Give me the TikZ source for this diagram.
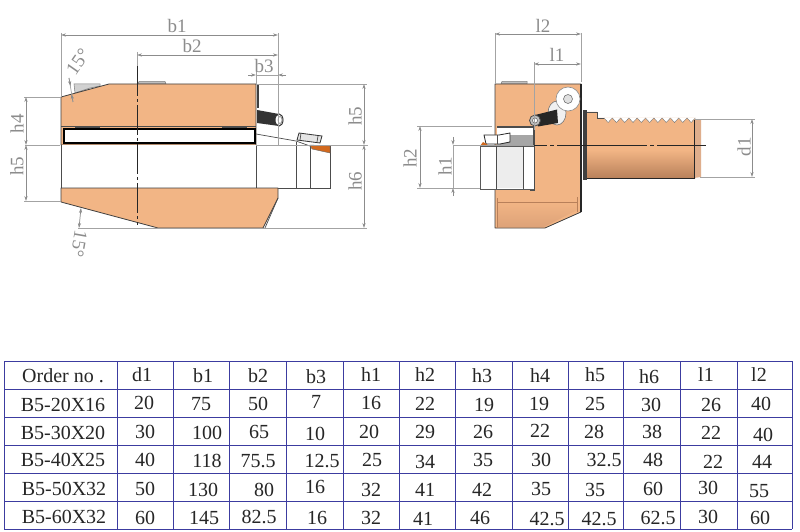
\documentclass[tikz,border=0pt]{standalone}
\usepackage{fontspec}
\setmainfont{Liberation Serif}
\usetikzlibrary{arrows.meta}
\definecolor{body}{HTML}{F2B585}
\definecolor{bodydark}{HTML}{B8805A}
\definecolor{bodysoft}{HTML}{DDA278}
\definecolor{capcol}{HTML}{DFAE8C}
\definecolor{dimgrey}{HTML}{8C8C8C}
\definecolor{tablee}{HTML}{3C3CA0}
\definecolor{orangetip}{HTML}{D2691E}
\tikzset{
  part/.style={fill=body,draw=black!75,line width=0.8pt,line join=round},
  edgeline/.style={draw=black!70,line width=0.7pt},
  whitepart/.style={fill=white,draw=black!65,line width=0.7pt},
  dimline/.style={draw=dimgrey,line width=0.7pt,<->,>={Stealth[length=5pt,width=3.2pt]}},
  dimhalf/.style={draw=dimgrey,line width=0.7pt,->,>={Stealth[length=5pt,width=3.2pt]}},
  extline/.style={draw=dimgrey!80,line width=0.7pt},
  dimtext/.style={text=dimgrey,font=\fontsize{19}{19}\selectfont,inner sep=0pt},
  cell/.style={text=black!85,font=\fontsize{20}{20}\selectfont,inner sep=0pt},
  gridline/.style={draw=tablee,line width=0.8pt},
  centerline/.style={draw=black!85,line width=0.7pt,dash pattern=on 30pt off 3pt on 3pt off 3pt}
}
\begin{document}
\begin{tikzpicture}[x=1pt,y=-1pt]
\useasboundingbox (0,0) rectangle (800,532);
\fill[white] (0,0) rectangle (800,532);
% ---------- left view ----------
\fill[black!18,draw=black!50,line width=0.5pt] (74,84) -- (100,84) -- (100,86) -- (90,88) -- (75,93) -- cycle;
\fill[black!25,draw=black!50,line width=0.5pt] (138,84) -- (139,81.5) -- (165,81.5) -- (166,84) -- cycle;
\draw[part] (61,97) -- (109,84) -- (256,84) -- (256,145) -- (61,145) -- cycle;
\draw[edgeline] (61,126) -- (256,126);
\draw[fill=white,draw=black,line width=1.4pt] (64,129) rectangle (255,143);
\draw[edgeline,line width=1.2pt] (75,127) -- (100,127) (222,127) -- (247,127);
% bolt
\fill[black!75] (257,84) rectangle (259,108);
\fill[black!80] (257,110) -- (279,114) -- (279,126) -- (257,123) -- cycle;
\draw[fill=white,draw=black!80,line width=1pt] (279,120) ellipse [x radius=4pt,y radius=6pt];
\draw[draw=black!50,line width=0.6pt] (280,120) ellipse [x radius=2pt,y radius=3.5pt];
% tool
\fill[white] (61,145) rectangle (330,188);
\draw[edgeline] (61,145) -- (61,188);
\draw[edgeline] (256,145) -- (256,188) -- (330,188) -- (330,146);
\draw[edgeline] (296,142) -- (296,188) (310,146) -- (310,188);
\draw[edgeline] (256,134) -- (296,141) -- (310,146);
\draw[fill=orangetip,draw=black!60,line width=0.4pt] (310,145) -- (330,146) -- (330,153) -- (312,149) -- cycle;
\draw[fill=black!10,draw=black!80,line width=0.8pt] (299,133) -- (322,136) -- (320,143) -- (297,140) -- cycle;
\draw[edgeline] (301,133) -- (300,140) (318,136) -- (317,142);
% lower body
\draw[part] (61,188) -- (278,188) -- (278,198) -- (263,228) -- (158,228) -- (61,202) -- cycle;
\draw[edgeline] (278,198) -- (265,228);
\draw[centerline] (137,66) -- (137,225);
% left dimensions
\draw[extline] (61,33) -- (61,97) (278,33) -- (278,146);
\draw[extline] (137,52) -- (137,66);
\draw[extline] (256,70) -- (256,84);
\draw[extline] (256,84) -- (367,84) (25,145) -- (60,145) (256,145) -- (368,145);
\draw[extline] (78,228) -- (367,228);
\draw[extline] (24,97) -- (61,97) (24,201) -- (61,201);
\draw[dimline] (61,35) -- (278,35);
\draw[dimline] (137,55) -- (278,55);
\draw[dimhalf] (248,75) -- (256,75);
\draw[dimhalf] (286,75) -- (278,75);
\draw[extline] (256,75) -- (278,75);
\draw[dimline] (364,84) -- (364,145);
\draw[dimline] (364,145) -- (364,228);
\draw[dimline] (26,97) -- (26,145);
\draw[dimline] (26,145) -- (26,201);
\draw[extline] (69,78) -- (73,102);
\draw[dimhalf] (69,78) -- (70.5,86);
\draw[dimhalf] (73,102) -- (71.5,94);
\draw[dimline] (81,208) -- (79,228);
\node[dimtext] (tb1) at (177,26) {b1};
\node[dimtext] (tb2) at (192,46) {b2};
\node[dimtext] (tb3) at (264,66) {b3};
\node[dimtext,rotate=90] (th5r) at (355,116) {h5};
\node[dimtext,rotate=90] (th6) at (355,181) {h6};
\node[dimtext,rotate=90] (th4) at (17,124) {h4};
\node[dimtext,rotate=90] (th5l) at (17,166) {h5};
\node[dimtext,rotate=55] (ta1) at (78,62) {15°};
\node[dimtext,rotate=-100] (ta2) at (79,244) {15°};
% ---------- right view ----------
\fill[black!25,draw=black!50,line width=0.5pt] (501,84) -- (502,81.5) -- (527,81.5) -- (527,84) -- cycle;
% shank
\fill[body] (587,112) -- (597,112) -- (597,118) -- (695,118) -- (695,150) -- (587,150) -- cycle;
\shade[top color=body,bottom color=bodydark] (587,150) rectangle (695,178.5);
\fill[capcol] (694,120) -- (701,120) -- (701,177) -- (694,178) -- cycle;
\foreach \tx in {604,612.3,...,690}{
  \draw[fill=white,draw=black!55,line width=0.4pt] (\tx,118) -- (\tx+4.1,122.5) -- (\tx+8.3,118);
}
\draw[edgeline] (587,112) -- (597,112) -- (597,118) -- (604,118);
\draw[draw=black!85,line width=0.9pt] (694,120) -- (694,178) -- (587,178);
\fill[black!75] (582.5,110) rectangle (587,180);
% block
\draw[part] (495,84) -- (581,84) -- (581,212) -- (545,228) -- (495,228) -- cycle;
\shade[top color=body,bottom color=bodysoft] (497,202) -- (577,202) -- (577,210) -- (544,227) -- (497,227) -- cycle;
\draw[draw=bodydark,line width=0.6pt] (497,198) -- (497,228) (577,197) -- (577,212) (497,202) -- (577,202);
\draw[draw=black!85,line width=1.4pt] (581,84) -- (581,212);
% recess
\fill[white] (497,127) rectangle (534,135);
\fill[black!35] (497,135) rectangle (533,145);
\draw[edgeline,line width=1.2pt] (497,127) -- (534,127) -- (534,145);
\draw[whitepart,fill=white] (480,146) rectangle (534,189);
\fill[black!7] (496,147) rectangle (523,188);
\draw[edgeline] (496,146) -- (496,189) (523,146) -- (523,189);
\draw[edgeline,line width=1pt] (534,146) -- (534,190) -- (530,190);
\draw[fill=white,draw=black!85,line width=0.8pt] (484,135) -- (499,135) -- (510,133) -- (510,142) -- (500,144) -- (486,144) -- cycle;
\draw[edgeline] (497,135) -- (497,144);
\fill[orangetip] (480,146) -- (483,142) -- (488,145) -- cycle;
% screws
\draw[fill=black!6,draw=black!55,line width=0.6pt] (557,113) ellipse [x radius=9pt,y radius=12pt];
\fill[black!85] (535,115) -- (557,109.5) -- (558,123) -- (538,126.5) -- cycle;
\draw[fill=black!25,draw=black!70,line width=0.8pt] (535,120.5) circle [radius=5.5pt];
\draw[fill=white,draw=black!60,line width=0.6pt] (535,120.5) circle [radius=2.5pt];
\draw[fill=white,draw=black!45,line width=0.6pt] (568,99) circle [radius=12pt];
\draw[fill=black!12,draw=black!55,line width=0.6pt] (568,99) circle [radius=4.5pt];
% right dimensions
\draw[extline] (495,33) -- (495,84) (581,33) -- (581,82);
\draw[extline] (534,62) -- (534,130);
\draw[extline] (417,126) -- (492,126) (417,188) -- (480,188) (453,145) -- (534,145);
\draw[extline] (695,119) -- (755,119) (700,177) -- (755,177);
\draw[dimline] (495,34) -- (581,34);
\draw[dimline] (534,64) -- (581,64);
\draw[dimline] (420,126) -- (420,188);
\draw[extline] (453,145) -- (453,188);
\draw[dimhalf] (453,137) -- (453,145);
\draw[dimhalf] (453,196) -- (453,188);
\draw[dimline] (752,119) -- (752,177);
\draw[draw=black!85,line width=0.7pt,dash pattern=on 90pt off 3pt on 4pt off 3pt,dash phase=77pt] (534,145.5) -- (706,145.5);
\node[dimtext] (tl2) at (543,26) {l2};
\node[dimtext] (tl1) at (557,55) {l1};
\node[dimtext,rotate=90] (th2) at (410,158) {h2};
\node[dimtext,rotate=90] (th1) at (445,166) {h1};
\node[dimtext,rotate=90] (td1) at (744,147) {d1};
% ---------- table ----------
\foreach \gx in {4,117,173,229,286,343,399,455,512,568,623,680,737,792}{
  \draw[gridline] (\gx,361) -- (\gx,529);
}
\foreach \gy in {361,389,417,445,473,501,529}{
  \draw[gridline] (4,\gy) -- (792,\gy);
}
\foreach \cx/\cy/\ct [count=\ci] in {
 63/376/{Order no .},142/375/d1,203/376/b1,258/376/b2,316/377/b3,371/375/h1,425/375/h2,482/376/h3,540/376/h4,595/375/h5,649/377/h6,706/375/l1,759/375/l2,
 63/405/B5-20X16,144/403/20,201/404/75,258/404/50,316/402/7,371/403/16,425/404/22,484/405/19,539/404/19,595/404/25,651/405/30,711/405/26,761/404/40,
 63/433/B5-30X20,145/432/30,207/433/100,259/432/65,315/434/10,369/432/20,425/432/29,483/432/26,540/431/22,594/432/28,652/432/38,711/433/22,763/435/40,
 63/460/B5-40X25,145/460/40,207/461/118,258/461/75.5,322/461/12.5,372/460/25,425/462/34,483/460/35,541/460/30,604/460/32.5,653/460/48,713/462/22,762/462/44,
 64/489/B5-50X32,145/489/50,203/490/130,264/490/80,315/487/16,371/490/32,425/490/41,482/490/42,541/489/35,595/490/35,653/489/60,708/488/30,759/491/55,
 64/517/B5-60X32,145/518/60,204/518/145,259/517/82.5,317/518/16,371/518/32,423/519/41,480/518/46,547/519/42.5,599/519/42.5,658/518/62.5,708/517/30,760/518/60
}{
  \node[cell] (cell\ci) at (\cx,\cy) {\ct};
}
\end{tikzpicture}
\end{document}
